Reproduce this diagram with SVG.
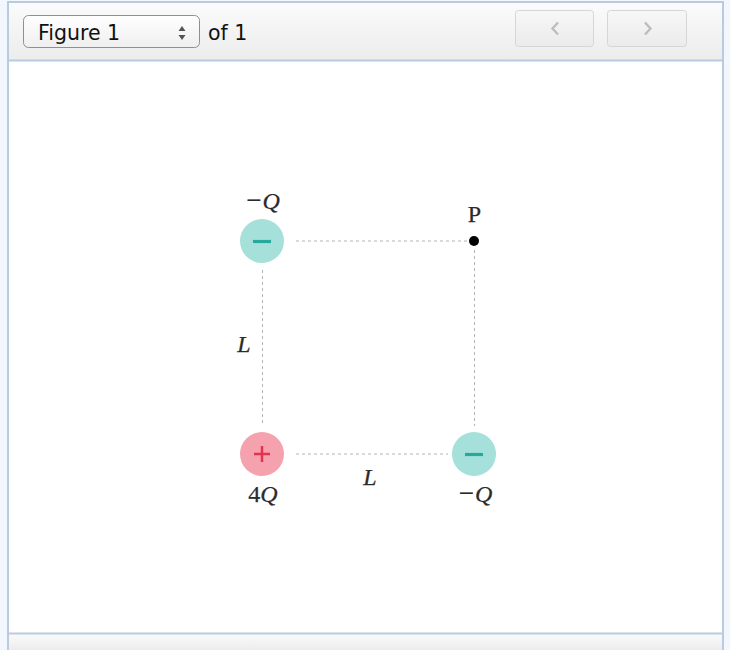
<svg xmlns="http://www.w3.org/2000/svg" width="730" height="650" viewBox="0 0 730 650">
<defs>
<linearGradient id="hdr" x1="0" y1="0" x2="0" y2="1"><stop offset="0" stop-color="#fbfbfb"/><stop offset="1" stop-color="#ececec"/></linearGradient>
<linearGradient id="sel" x1="0" y1="0" x2="0" y2="1"><stop offset="0" stop-color="#ffffff"/><stop offset="1" stop-color="#efefef"/></linearGradient>
<linearGradient id="btn" x1="0" y1="0" x2="0" y2="1"><stop offset="0" stop-color="#f7f7f7"/><stop offset="1" stop-color="#ebebeb"/></linearGradient>
<style>
.ui{font-family:"DejaVu Sans","Liberation Sans",sans-serif;font-size:20.5px;fill:#111}
.m{font-family:"Liberation Serif","DejaVu Serif",serif;font-size:24px;fill:#2b2b2b;stroke:#2b2b2b;stroke-width:0.25}
.it{font-style:italic}
.mn{font-size:27px}
.dash{stroke:#b4b4b4;stroke-width:1;stroke-dasharray:3 3;fill:none}
.neg{fill:#a6e0da}
.negs{stroke:#27a99d;stroke-width:3.2;stroke-linecap:butt}
.pos{fill:#f5a2ae}
.poss{stroke:#e6304f;stroke-width:2.5}
.chev{fill:none;stroke:#bdbdbd;stroke-width:2.4}
</style>
</defs>
<rect x="0" y="0" width="730" height="650" fill="#f2f7fd"/>
<rect x="8" y="2" width="715" height="660" fill="#ffffff" stroke="#b9cbe0" stroke-width="2"/>
<rect x="9" y="3" width="713" height="57" fill="url(#hdr)"/>
<line x1="8" y1="60.5" x2="723" y2="60.5" stroke="#b9cbe0" stroke-width="2"/>
<rect x="9" y="634" width="713" height="16" fill="url(#hdr)"/>
<line x1="8" y1="633.5" x2="723" y2="633.5" stroke="#b9cbe0" stroke-width="2"/>
<g id="toolbar">
<rect x="23.5" y="15.5" width="176" height="32" rx="5" fill="url(#sel)" stroke="#8f8f8f"/>
<text class="ui" x="38" y="40">Figure 1</text>
<path d="M178.5 31 L182 26 L185.5 31 Z M178.5 35 L182 40 L185.5 35 Z" fill="#555"/>
<text class="ui" x="208" y="40">of 1</text>
<rect x="515.5" y="10.5" width="78" height="36" rx="3" fill="url(#btn)" stroke="#d6d6d6"/>
<polyline class="chev" points="558,22.5 552.5,28.5 558,34.5"/>
<rect x="607.5" y="10.5" width="79" height="36" rx="3" fill="url(#btn)" stroke="#d6d6d6"/>
<polyline class="chev" points="645,22.5 650.5,28.5 645,34.5"/>
</g>
<g id="connectors">
<line class="dash" x1="296" y1="241" x2="468" y2="241"/>
<line class="dash" x1="296" y1="454" x2="448" y2="454"/>
<line class="dash" x1="262.5" y1="270" x2="262.5" y2="426"/>
<line class="dash" x1="474.5" y1="250" x2="474.5" y2="426"/>
<text class="m it" x="244" y="352" text-anchor="middle">L</text>
<text class="m it" x="370" y="485" text-anchor="middle">L</text>
</g>
<g id="charge-top-left">
<circle class="neg" cx="262" cy="241" r="22"/>
<line class="negs" x1="253" y1="241.5" x2="271" y2="241.5"/>
<text class="m" x="263" y="209" text-anchor="middle"><tspan class="mn">−</tspan><tspan class="it" dx="1">Q</tspan></text>
</g>
<g id="point-P">
<circle cx="474" cy="241" r="5" fill="#000"/>
<text class="m" x="474.5" y="222" text-anchor="middle">P</text>
</g>
<g id="charge-bottom-left">
<circle class="pos" cx="262" cy="454" r="22"/>
<line class="poss" x1="254" y1="454" x2="270" y2="454"/>
<line class="poss" x1="262" y1="446" x2="262" y2="462"/>
<text class="m" x="263" y="502" text-anchor="middle">4<tspan class="it">Q</tspan></text>
</g>
<g id="charge-bottom-right">
<circle class="neg" cx="474" cy="454" r="22"/>
<line class="negs" x1="465" y1="454.5" x2="483" y2="454.5"/>
<text class="m" x="475.5" y="502" text-anchor="middle"><tspan class="mn">−</tspan><tspan class="it" dx="1">Q</tspan></text>
</g>
</svg>
